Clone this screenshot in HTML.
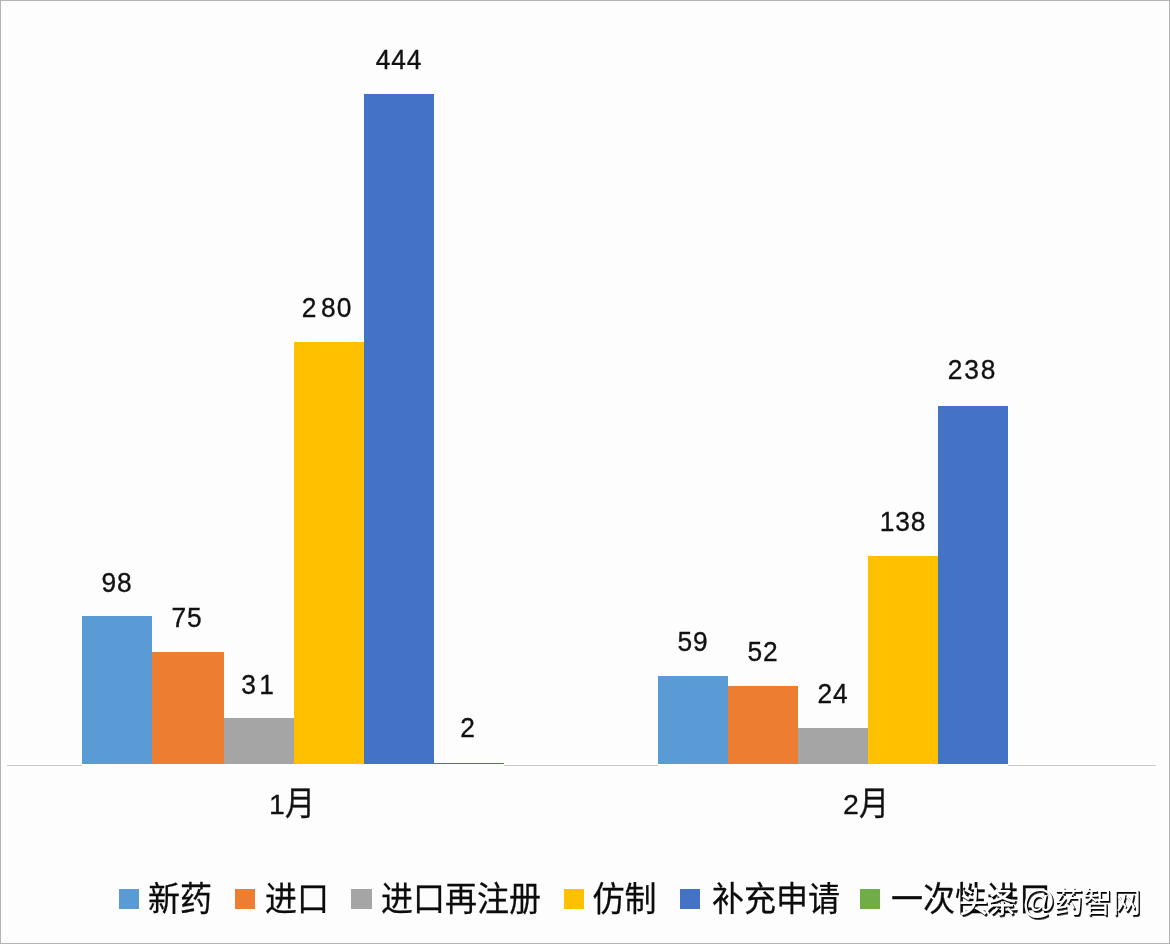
<!DOCTYPE html>
<html lang="zh-CN">
<head>
<meta charset="utf-8">
<title>chart</title>
<style>
html,body{margin:0;padding:0;}
body{width:1170px;height:944px;overflow:hidden;background:#fdfdfd;font-family:"Liberation Sans","Noto Sans CJK SC",sans-serif;color:#1a1a1a;}
#chart{position:relative;width:1168px;height:942px;border:1px solid #b4b4b4;background:#fdfdfd;overflow:hidden;}
.bar{position:absolute;}
.c1{background:#5b9bd5;}
.c2{background:#ed7d31;}
.c3{background:#a5a5a5;}
.c4{background:#ffc000;}
.c5{background:#4472c4;}
.c6{background:#70ad47;}
.axis{position:absolute;top:763.5px;height:1.4px;background:#cbcbcb;}
.val{position:absolute;width:100px;text-align:center;font-size:28px;line-height:30px;letter-spacing:1px;color:#111;-webkit-text-stroke:0.35px #111;transform:scaleX(0.94);transform-origin:50% 50%;}
.cat{position:absolute;width:120px;text-align:center;font-size:30px;line-height:36px;color:#111;white-space:nowrap;}
.cat .n{display:inline-block;font-size:28.5px;position:relative;top:2px;-webkit-text-stroke:0.3px #111;}
.cat .m{display:inline-block;transform:scaleY(1.11);transform-origin:50% 20%;-webkit-text-stroke:0.3px #111;position:relative;top:0.8px;}
.sq{position:absolute;top:888px;width:20px;height:20px;}
.lg{position:absolute;top:876.5px;font-size:32px;line-height:44px;color:#0c0c0c;-webkit-text-stroke:0.25px #0c0c0c;white-space:nowrap;transform:scaleY(1.05);transform-origin:50% 84%;}
.wm{position:absolute;top:880px;font-size:29px;line-height:44px;color:#fff;white-space:nowrap;text-shadow:1px 1px 0 #000,1.6px 1.6px 0.6px rgba(0,0,0,.75);}
.wm b{font-weight:500;}
</style>
</head>
<body>
<div id="chart">
  <div class="axis" style="left:6px;width:75px;"></div>
  <div class="axis" style="left:503px;width:154px;"></div>
  <div class="axis" style="left:1007px;width:148px;"></div>

  <div class="bar c1" style="left:81px;top:615px;width:70px;height:148px;"></div>
  <div class="bar c2" style="left:151px;top:651px;width:72px;height:112px;"></div>
  <div class="bar c3" style="left:223px;top:717px;width:70px;height:46px;"></div>
  <div class="bar c4" style="left:293px;top:341px;width:70px;height:422px;"></div>
  <div class="bar c5" style="left:363px;top:93px;width:70px;height:670px;"></div>
  <div class="bar c6" style="left:433px;top:761.7px;width:70px;height:1.4px;background:#5a7a38;"></div>

  <div class="bar c1" style="left:657px;top:675px;width:70px;height:88px;"></div>
  <div class="bar c2" style="left:727px;top:685px;width:70px;height:78px;"></div>
  <div class="bar c3" style="left:797px;top:727px;width:70px;height:36px;"></div>
  <div class="bar c4" style="left:867px;top:555px;width:70px;height:208px;"></div>
  <div class="bar c5" style="left:937px;top:405px;width:70px;height:358px;"></div>

  <div class="val" style="left:66px;top:566.8px;">98</div>
  <div class="val" style="left:136px;top:602.45px;">75</div>
  <div class="val" style="left:206.8px;top:668.6px;"><span style="letter-spacing:3.5px">3</span>1</div>
  <div class="val" style="left:276.3px;top:292.3px;"><span style="letter-spacing:5px">2</span>80</div>
  <div class="val" style="left:347.7px;top:44.2px;">444</div>
  <div class="val" style="left:417px;top:712.4px;">2</div>

  <div class="val" style="left:642px;top:626.15px;">59</div>
  <div class="val" style="left:711.5px;top:636.45px;">52</div>
  <div class="val" style="left:782px;top:678.35px;">24</div>
  <div class="val" style="left:852px;top:506.4px;">138</div>
  <div class="val" style="left:921.3px;top:354.35px;"><span style="letter-spacing:2px">2</span><span style="letter-spacing:2px">3</span>8</div>

  <div class="cat" style="left:231px;top:783px;"><span class="n">1</span><span class="m">月</span></div>
  <div class="cat" style="left:805px;top:783px;"><span class="n">2</span><span class="m">月</span></div>

  <div class="sq c1" style="left:118px;"></div><div class="lg" style="left:147px;">新药</div>
  <div class="sq c2" style="left:234px;"></div><div class="lg" style="left:264px;">进口</div>
  <div class="sq c3" style="left:350px;width:21px;"></div><div class="lg" style="left:380px;">进口再注册</div>
  <div class="sq c4" style="left:563px;"></div><div class="lg" style="left:591.5px;">仿制</div>
  <div class="sq c5" style="left:679px;"></div><div class="lg" style="left:711px;">补充申请</div>
  <div class="sq c6" style="left:859px;"></div><div class="lg" style="left:890px;">一次性进口</div>
  <div class="wm" style="left:958px;"><b>头条</b><span style="font-size:33px;margin-left:5px;margin-right:-1.5px;line-height:30px;position:relative;top:0px;">@</span>药智网</div>
</div>
</body>
</html>
